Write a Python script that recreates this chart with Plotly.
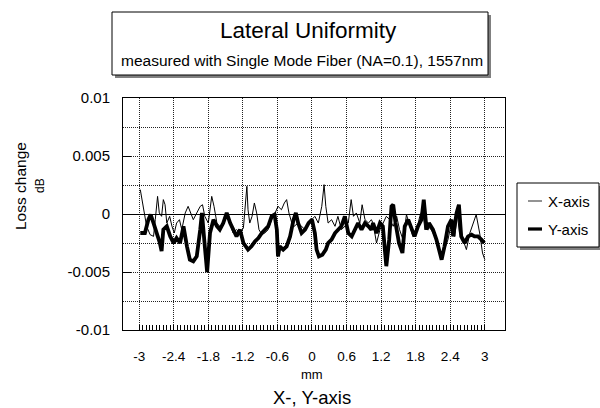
import plotly.graph_objects as go

# ---------------- data ----------------
x_pos_xaxis = [-2.98, -2.95, -2.91, -2.87, -2.81, -2.75, -2.72, -2.68, -2.65, -2.61, -2.58, -2.55, -2.52, -2.47,
               -2.43, -2.39, -2.35, -2.30, -2.26, -2.20, -2.15, -2.10, -2.06, -2.00, -1.94, -1.90, -1.86, -1.80,
               -1.74, -1.70, -1.65, -1.60, -1.54, -1.48, -1.42, -1.37, -1.31, -1.25, -1.19, -1.13, -1.11, -1.08,
               -1.04, -1.00, -0.96, -0.92, -0.87, -0.82, -0.76, -0.70, -0.64, -0.59, -0.53, -0.48, -0.44, -0.40,
               -0.35, -0.31, -0.24, -0.18, -0.12, -0.06, 0.00, 0.05, 0.11, 0.17, 0.21, 0.24, 0.28, 0.34, 0.40,
               0.45, 0.51, 0.57, 0.63, 0.68, 0.72, 0.77, 0.83, 0.87, 0.92, 0.98, 1.03, 1.06, 1.12, 1.18, 1.23,
               1.29, 1.35, 1.41, 1.47, 1.52, 1.58, 1.64, 1.70, 1.75, 1.81, 1.87, 1.92, 1.96, 2.01, 2.07, 2.13,
               2.19, 2.25, 2.30, 2.36, 2.42, 2.48, 2.52, 2.56, 2.62, 2.68, 2.74, 2.80, 2.85, 2.91, 2.96, 3.00]
loss_xaxis = [0.00210, 0.00124, 0.00009, -0.00106, -0.00178, -0.00193, -0.00049, 0.00152, 0.00009, -0.00020,
              0.00124, 0.00080, -0.00078, -0.00020, -0.00106, -0.00164, -0.00078, -0.00049, -0.00135, 0.00009,
              0.00066, 0.00009, -0.00049, 0.00009, 0.00066, 0.00080, -0.00020, -0.00078, 0.00152, 0.00066,
              -0.00078, -0.00106, -0.00078, 0.00009, -0.00078, -0.00164, -0.00135, -0.00164, -0.00120, 0.00239,
              0.00037, -0.00078, -0.00020, 0.00095, 0.00009, -0.00135, -0.00178, -0.00164, -0.00135, -0.00049,
              0.00009, 0.00066, 0.00037, 0.00095, 0.00124, 0.00009, -0.00078, -0.00106, -0.00078, -0.00106,
              -0.00135, -0.00078, -0.00049, -0.00020, -0.00078, 0.00066, 0.00253, 0.00066, -0.00078, -0.00049,
              -0.00106, -0.00020, -0.00135, -0.00106, -0.00078, 0.00124, -0.00020, 0.00009, -0.00078, 0.00080,
              -0.00049, -0.00078, -0.00049, -0.00078, -0.00250, -0.00135, -0.00078, -0.00020, -0.00049, -0.00106,
              -0.00020, -0.00135, -0.00221, -0.00005, -0.00106, -0.00193, -0.00164, -0.00020, 0.00037, -0.00135,
              -0.00106, -0.00135, -0.00193, -0.00279, -0.00365, -0.00307, -0.00221, -0.00078, -0.00193, 0.00009,
              -0.00164, -0.00221, -0.00307, -0.00164, -0.00078, -0.00005, -0.00164, -0.00336, -0.00394]

x_pos_yaxis = [-2.98, -2.90, -2.84, -2.80, -2.75, -2.69, -2.64, -2.61, -2.58, -2.52, -2.46, -2.40, -2.35, -2.29,
               -2.23, -2.17, -2.12, -2.06, -2.00, -1.94, -1.91, -1.86, -1.82, -1.77, -1.71, -1.65, -1.60, -1.54,
               -1.48, -1.42, -1.37, -1.31, -1.25, -1.19, -1.11, -1.05, -0.99, -0.93, -0.87, -0.82, -0.76, -0.70,
               -0.65, -0.61, -0.59, -0.56, -0.50, -0.44, -0.38, -0.32, -0.28, -0.24, -0.18, -0.12, -0.06, 0.00,
               0.05, 0.08, 0.12, 0.18, 0.24, 0.28, 0.34, 0.40, 0.45, 0.51, 0.57, 0.63, 0.69, 0.74, 0.80, 0.86,
               0.92, 0.98, 1.03, 1.06, 1.12, 1.18, 1.23, 1.29, 1.34, 1.38, 1.41, 1.45, 1.51, 1.57, 1.61, 1.67,
               1.73, 1.78, 1.84, 1.90, 1.94, 1.99, 2.03, 2.10, 2.16, 2.22, 2.25, 2.30, 2.36, 2.42, 2.45, 2.51,
               2.55, 2.59, 2.65, 2.71, 2.77, 2.82, 2.88, 2.94, 2.99]
loss_yaxis = [-0.00164, -0.00164, -0.00049, -0.00005, -0.00078, -0.00164, -0.00250, -0.00320, -0.00135, -0.00106,
              -0.00193, -0.00250, -0.00207, -0.00250, -0.00106, -0.00279, -0.00394, -0.00408, -0.00365, -0.00135,
              0.00009, -0.00279, -0.00500, -0.00164, -0.00049, -0.00106, -0.00135, -0.00078, 0.00009, -0.00078,
              -0.00135, -0.00193, -0.00135, -0.00250, -0.00307, -0.00279, -0.00236, -0.00207, -0.00164, -0.00135,
              -0.00106, -0.00020, -0.00005, -0.00135, -0.00365, -0.00279, -0.00307, -0.00279, -0.00193, -0.00049,
              0.00009, -0.00078, -0.00164, -0.00135, -0.00078, -0.00049, -0.00164, -0.00307, -0.00365, -0.00351,
              -0.00307, -0.00250, -0.00221, -0.00164, -0.00135, -0.00106, -0.00020, -0.00164, -0.00193, -0.00135,
              -0.00078, -0.00135, -0.00078, -0.00106, -0.00135, -0.00078, -0.00164, -0.00078, -0.00106, -0.00450,
              -0.00221, 0.00066, 0.00080, -0.00078, -0.00250, -0.00336, -0.00106, -0.00049, -0.00135, -0.00193,
              -0.00106, -0.00049, 0.00124, -0.00135, -0.00078, -0.00135, -0.00221, -0.00336, -0.00394, -0.00279,
              -0.00106, -0.00049, -0.00193, 0.00009, 0.00080, -0.00193, -0.00250, -0.00193, -0.00178, -0.00193,
              -0.00193, -0.00221, -0.00250]

x_tick_vals = [-3, -2.4, -1.8, -1.2, -0.6, 0, 0.6, 1.2, 1.8, 2.4, 3]
x_tick_text = ["-3", "-2.4", "-1.8", "-1.2", "-0.6", "0", "0.6", "1.2", "1.8", "2.4", "3"]
y_tick_vals = [-0.01, -0.005, 0, 0.005, 0.01]
y_tick_text = ["-0.01", "-0.005", "0", "0.005", "0.01"]

series_names = ["X-axis", "Y-axis"]
title_text = "Lateral Uniformity"
subtitle_text = "measured with Single Mode Fiber (NA=0.1), 1557nm"

# ---------------- layout geometry (pixels) ----------------
W, H = 600, 408
ML, MR, MT, MB = 123, 95, 98, 78
PW, PH = W - ML - MR, H - MT - MB


def px(x):
    return (x - ML) / PW


def py(y):
    return (H - MB - y) / PH


FONT = "Liberation Sans, Arial, sans-serif"
GRID_DASH = "1px,1px"

fig = go.Figure()
fig.add_trace(go.Scatter(x=x_pos_xaxis, y=loss_xaxis, mode="lines", name=series_names[0],
                         line=dict(color="black", width=1), showlegend=False))
fig.add_trace(go.Scatter(x=x_pos_yaxis, y=loss_yaxis, mode="lines", name=series_names[1],
                         line=dict(color="black", width=3.8), showlegend=False))

minor_x = [round(-3 + i * 0.06, 3) for i in range(101)]

fig.update_xaxes(range=[-3.28, 3.35], tickmode="array", tickvals=x_tick_vals, ticktext=x_tick_text,
                 showgrid=True, gridcolor="#222", griddash=GRID_DASH, gridwidth=1,
                 showline=True, linecolor="black", linewidth=1, mirror=True, zeroline=False,
                 ticks="", ticklabelstandoff=14,
                 tickfont=dict(family=FONT, size=13.5, color="black"),
                 minor=dict(tickmode="array", tickvals=minor_x, ticks="inside", ticklen=5,
                            tickcolor="black", tickwidth=1, showgrid=False))
fig.update_yaxes(range=[-0.01, 0.01], tickmode="array", tickvals=y_tick_vals, ticktext=y_tick_text,
                 showgrid=True, gridcolor="#222", griddash=GRID_DASH, gridwidth=1,
                 showline=True, linecolor="black", linewidth=1, mirror=True,
                 zeroline=True, zerolinecolor="black", zerolinewidth=1,
                 ticks="inside", ticklen=8, tickcolor="black", ticklabelstandoff=9,
                 tickfont=dict(family=FONT, size=15, color="black"),
                 minor=dict(dtick=0.0025, tick0=0, showgrid=True, gridcolor="#222", griddash=GRID_DASH,
                            gridwidth=1, ticks=""))

shapes = []
# title box with shadow
shapes.append(dict(type="rect", xref="paper", yref="paper", x0=px(115), x1=px(491), y0=py(15), y1=py(78),
                   fillcolor="#808080", line=dict(width=0), layer="above"))
shapes.append(dict(type="rect", xref="paper", yref="paper", x0=px(112), x1=px(488), y0=py(12), y1=py(75),
                   fillcolor="white", line=dict(color="black", width=1), layer="above"))
# legend box with shadow
shapes.append(dict(type="rect", xref="paper", yref="paper", x0=px(520), x1=px(602), y0=py(186), y1=py(250),
                   fillcolor="#808080", line=dict(width=0), layer="above"))
shapes.append(dict(type="rect", xref="paper", yref="paper", x0=px(517), x1=px(599), y0=py(183), y1=py(247),
                   fillcolor="white", line=dict(color="black", width=1), layer="above"))
# legend line samples (styles taken from the traces)
for tr, yy in zip(fig.data, [201, 229]):
    shapes.append(dict(type="line", xref="paper", yref="paper", x0=px(528), x1=px(542), y0=py(yy), y1=py(yy),
                       line=dict(color=tr.line.color, width=tr.line.width * 0.85), layer="above"))
fig.update_layout(shapes=shapes)

ann = []
ann.append(dict(text=title_text, x=px(308), y=py(30), xref="paper", yref="paper", showarrow=False,
                font=dict(family=FONT, size=22.5, color="black"), xanchor="center", yanchor="middle"))
ann.append(dict(text=subtitle_text, x=px(302), y=py(61), xref="paper", yref="paper", showarrow=False,
                font=dict(family=FONT, size=15.5, color="black"), xanchor="center", yanchor="middle"))
for tr, yy in zip(fig.data, [201, 229]):
    ann.append(dict(text=tr.name, x=px(546), y=py(yy), xref="paper", yref="paper", showarrow=False,
                    font=dict(family=FONT, size=15, color="black"), xanchor="left", yanchor="middle"))
ann.append(dict(text="Loss change", x=px(20), y=py(186), xref="paper", yref="paper", showarrow=False,
                textangle=-90, font=dict(family=FONT, size=15.5, color="black"),
                xanchor="center", yanchor="middle"))
ann.append(dict(text="dB", x=px(40), y=py(186), xref="paper", yref="paper", showarrow=False,
                textangle=-90, font=dict(family=FONT, size=12, color="black"),
                xanchor="center", yanchor="middle"))
ann.append(dict(text="mm", x=px(312), y=py(374), xref="paper", yref="paper", showarrow=False,
                font=dict(family=FONT, size=13, color="black"), xanchor="center", yanchor="middle"))
ann.append(dict(text="X-, Y-axis", x=px(312), y=py(397), xref="paper", yref="paper", showarrow=False,
                font=dict(family=FONT, size=18.5, color="black"), xanchor="center", yanchor="middle"))

fig.update_layout(annotations=ann, width=W, height=H,
                  margin=dict(l=ML, r=MR, t=MT, b=MB, pad=0),
                  paper_bgcolor="white", plot_bgcolor="white", showlegend=False)

fig.write_html("out.html", config={"displayModeBar": False},
               post_script="document.body.style.margin='0';document.body.style.overflow='hidden';")
